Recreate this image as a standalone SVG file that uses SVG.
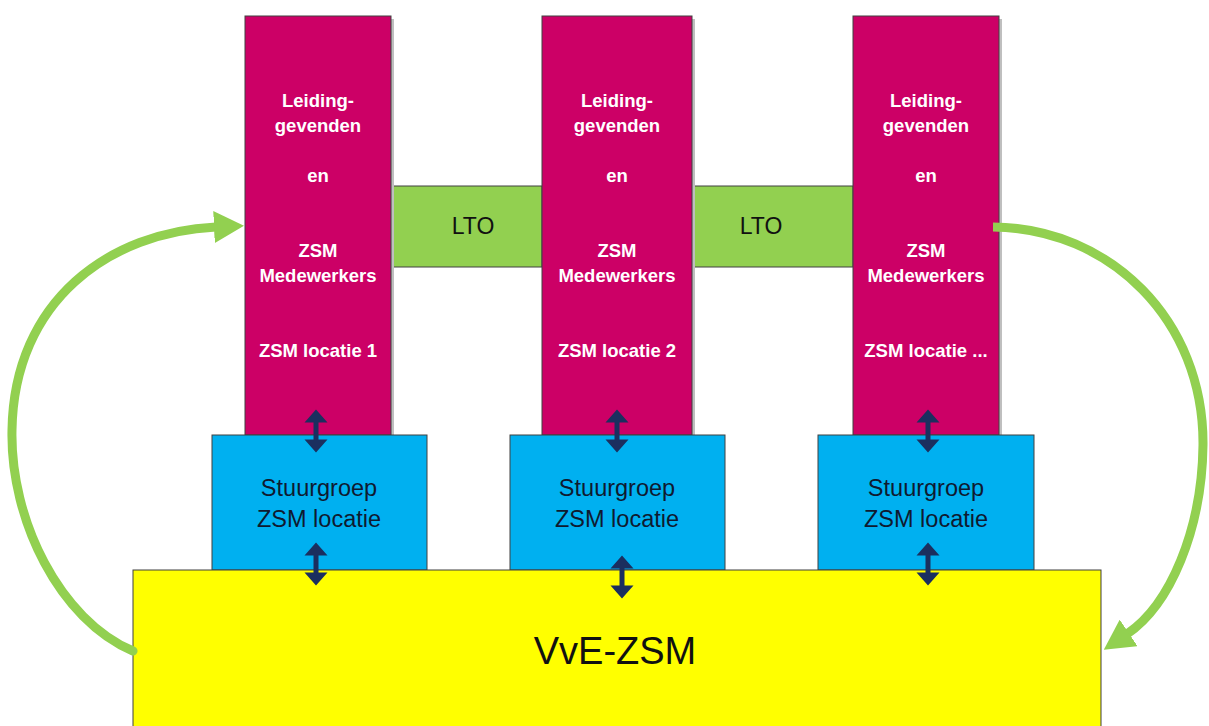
<svg xmlns="http://www.w3.org/2000/svg" width="1209" height="726" viewBox="0 0 1209 726">
<style>
.pink{fill:#cc0066;stroke:#404040;stroke-width:1}
.lto{fill:#92d050;stroke:#404040;stroke-width:1}
.blue{fill:#00b0f0;stroke:#404040;stroke-width:1}
.yellow{fill:#ffff00;stroke:#404040;stroke-width:1}
.wt{font-family:"Liberation Sans",Arial,sans-serif;font-weight:bold;font-size:18.5px;fill:#ffffff;text-anchor:middle}
.bt{font-family:"Liberation Sans",Arial,sans-serif;font-size:23.5px;fill:#0f1a30;text-anchor:middle}
.lt{font-family:"Liberation Sans",Arial,sans-serif;font-size:23px;fill:#111111;text-anchor:middle}
.vt{font-family:"Liberation Sans",Arial,sans-serif;font-size:38px;fill:#111111;text-anchor:middle}
.curve{fill:none;stroke:#92d050;stroke-width:9}
.dbl{fill:#1b2f5f}
.shadow{fill:#bfbfbf}
</style>
<defs>
<marker id="gh" viewBox="0 0 30 32" refX="2" refY="16" markerWidth="30" markerHeight="32" markerUnits="userSpaceOnUse" orient="auto">
<path d="M0,0 L30,16 L0,32 Z" fill="#92d050"/>
</marker>
<path id="dblarrow" d="M0,-21.5 L11.5,-8.5 L2.5,-8.5 L2.5,8.5 L11.5,8.5 L0,21.5 L-11.5,8.5 L-2.5,8.5 L-2.5,-8.5 L-11.5,-8.5 Z"/>
</defs>

<g id="lto1">
<rect class="lto" x="391" y="186" width="151" height="81"/>
<text class="lt" x="473" y="234">LTO</text>
</g>
<g id="lto2">
<rect class="lto" x="692" y="186" width="161" height="81"/>
<text class="lt" x="761" y="234">LTO</text>
</g>

<g id="col1">
<rect class="shadow" x="391" y="19" width="3" height="416"/>
<rect class="pink" x="245" y="16" width="146" height="419"/>
<text class="wt" x="318" y="107">Leiding-</text>
<text class="wt" x="318" y="132">gevenden</text>
<text class="wt" x="318" y="182">en</text>
<text class="wt" x="318" y="257">ZSM</text>
<text class="wt" x="318" y="282">Medewerkers</text>
<text class="wt" x="318" y="357">ZSM locatie 1</text>
</g>
<g id="col2">
<rect class="shadow" x="692" y="19" width="3" height="416"/>
<rect class="pink" x="542" y="16" width="150" height="419"/>
<text class="wt" x="617" y="107">Leiding-</text>
<text class="wt" x="617" y="132">gevenden</text>
<text class="wt" x="617" y="182">en</text>
<text class="wt" x="617" y="257">ZSM</text>
<text class="wt" x="617" y="282">Medewerkers</text>
<text class="wt" x="617" y="357">ZSM locatie 2</text>
</g>
<g id="col3">
<rect class="shadow" x="999" y="19" width="3" height="416"/>
<rect class="pink" x="853" y="16" width="146" height="419"/>
<text class="wt" x="926" y="107">Leiding-</text>
<text class="wt" x="926" y="132">gevenden</text>
<text class="wt" x="926" y="182">en</text>
<text class="wt" x="926" y="257">ZSM</text>
<text class="wt" x="926" y="282">Medewerkers</text>
<text class="wt" x="926" y="357">ZSM locatie ...</text>
</g>

<g id="stuur1">
<rect class="blue" x="212" y="435" width="215" height="135"/>
<text class="bt" x="319" y="496">Stuurgroep</text>
<text class="bt" x="319" y="527">ZSM locatie</text>
</g>
<g id="stuur2">
<rect class="blue" x="510" y="435" width="215" height="135"/>
<text class="bt" x="617" y="496">Stuurgroep</text>
<text class="bt" x="617" y="527">ZSM locatie</text>
</g>
<g id="stuur3">
<rect class="blue" x="818" y="435" width="216" height="135"/>
<text class="bt" x="926" y="496">Stuurgroep</text>
<text class="bt" x="926" y="527">ZSM locatie</text>
</g>

<g id="vve">
<rect class="yellow" x="133" y="570" width="968" height="170"/>
<text class="vt" x="615" y="664">VvE-ZSM</text>
</g>

<g id="connectors">
<path class="curve" stroke-linecap="round" d="M133,651 C60,620 10,520 12,430 C14,300 110,232 216,227" marker-end="url(#gh)"/>
<path class="curve" d="M993,227 C1110,228 1204,320 1203,445 C1202,530 1170,605 1127,634" marker-end="url(#gh)"/>
<use href="#dblarrow" class="dbl" x="316" y="431"/>
<use href="#dblarrow" class="dbl" x="316" y="564"/>
<use href="#dblarrow" class="dbl" x="617" y="431"/>
<use href="#dblarrow" class="dbl" x="622" y="577"/>
<use href="#dblarrow" class="dbl" x="928" y="431"/>
<use href="#dblarrow" class="dbl" x="928" y="564"/>
</g>
</svg>
